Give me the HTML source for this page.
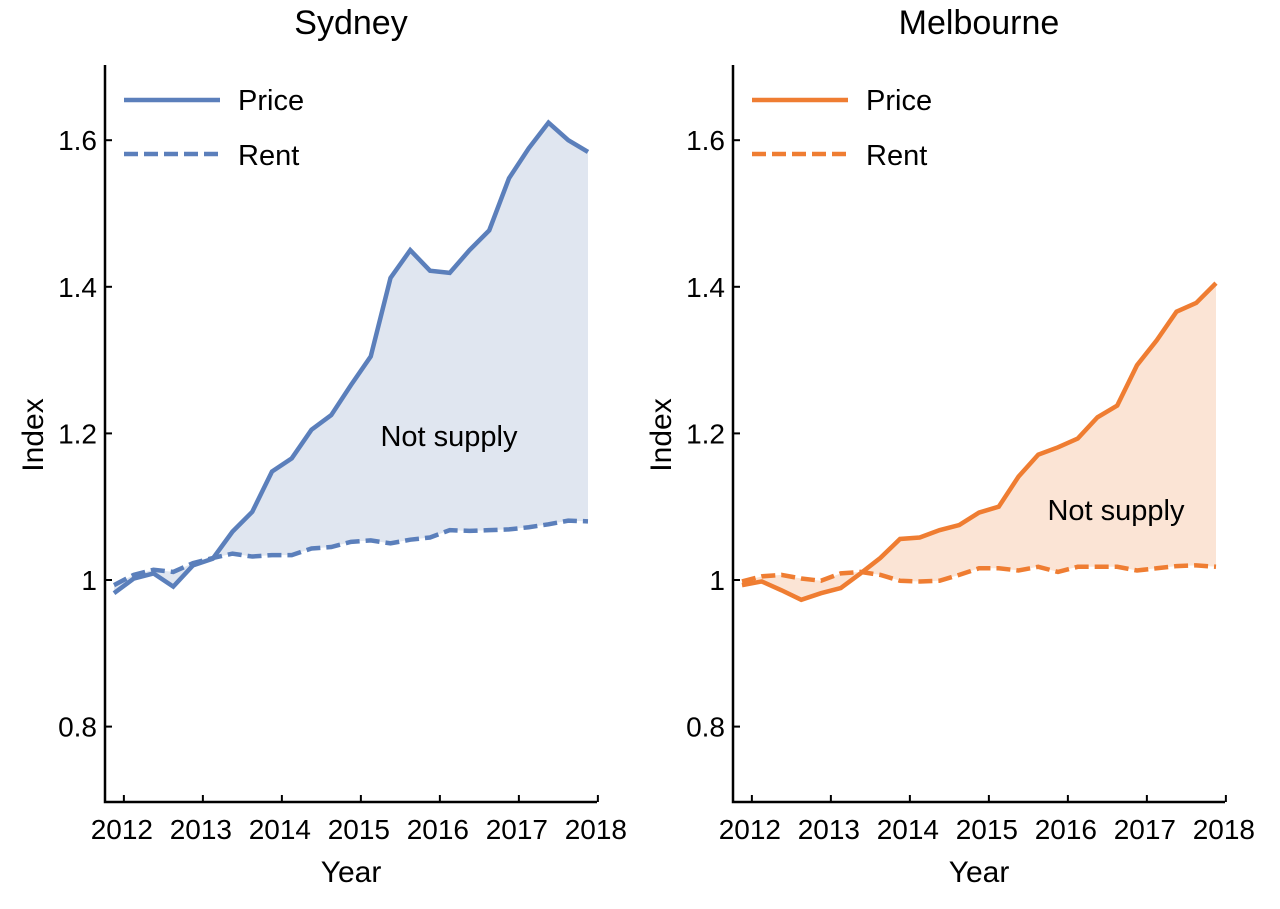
<!DOCTYPE html>
<html><head><meta charset="utf-8"><style>
body{margin:0;background:#fff;}
svg{display:block;font-family:"Liberation Sans",Arial,sans-serif;}
</style></head><body>
<svg id="chart" width="1280" height="909" viewBox="0 0 1280 909"></svg>
<script>
const quarterStart = 2011.875;
const yearTicks = [2012,2013,2014,2015,2016,2017,2018];
const yTickValues = [0.8,1.0,1.2,1.4,1.6];
const yTickLabels = ["0.8","1","1.2","1.4","1.6"];
const sydneyPrice = [0.982,1.002,1.009,0.991,1.020,1.029,1.066,1.093,1.148,1.166,1.205,1.225,1.266,1.305,1.412,1.450,1.422,1.419,1.450,1.477,1.548,1.589,1.624,1.600,1.584];
const sydneyRent = [0.993,1.007,1.014,1.011,1.023,1.030,1.036,1.032,1.034,1.034,1.043,1.045,1.052,1.054,1.050,1.055,1.058,1.068,1.067,1.068,1.069,1.072,1.076,1.081,1.080];
const melbPrice = [0.993,0.998,0.986,0.973,0.982,0.989,1.009,1.030,1.056,1.058,1.068,1.075,1.092,1.100,1.141,1.171,1.181,1.193,1.222,1.238,1.293,1.327,1.366,1.378,1.405];
const melbRent = [0.998,1.005,1.007,1.002,0.999,1.009,1.011,1.007,0.999,0.998,0.999,1.007,1.016,1.016,1.013,1.018,1.011,1.018,1.018,1.018,1.013,1.016,1.019,1.020,1.018];

const svg = document.getElementById('chart');
const NS = 'http://www.w3.org/2000/svg';
function mk(tag, attrs, parent){const e=document.createElementNS(NS,tag);for(const k in attrs)e.setAttribute(k,attrs[k]);(parent||svg).appendChild(e);return e;}
function yScale(v){return 580 - (v-1)*733;}

function panel(ax, title, price, rent, color, fill, labelX, labelY, key){
  const g = mk('g',{});
  
  
  const xS = t => ax + 9 + (t - quarterStart)*79;
  const xs = price.map((_,i)=>xS(quarterStart + i*0.25));
  let d = price.map((v,i)=>(i?'L':'M')+xs[i]+','+yScale(v)).join(' ');
  for(let i=rent.length-1;i>=0;i--) d += ' L'+xs[i]+','+yScale(rent[i]);
  const area = mk('path',{d:d+' Z',fill:fill,stroke:'none'},g);
  
  
  const rl = mk('polyline',{points:rent.map((v,i)=>xs[i]+','+yScale(v)).join(' '),fill:'none',stroke:color,'stroke-width':4.5,'stroke-dasharray':'14,6'},g);
  
  
  const pl = mk('polyline',{points:price.map((v,i)=>xs[i]+','+yScale(v)).join(' '),fill:'none',stroke:color,'stroke-width':4.5},g);
  
  
  const axes = mk('path',{d:`M${ax},65 L${ax},802 L${ax+492},802`,fill:'none',stroke:'#000','stroke-width':2.5},g);
  
  
  yearTicks.forEach(yr=>{
    const x = xS(yr);
    mk('line',{x1:x,y1:802,x2:x,y2:795,stroke:'#000','stroke-width':2},g);
    const t = mk('text',{x:x-2,y:839,'font-size':28,'text-anchor':'middle'},g);
    t.textContent = yr;
    
    
  });
  yTickValues.forEach((v,i)=>{
    const y = yScale(v);
    mk('line',{x1:ax,y1:y,x2:ax+7,y2:y,stroke:'#000','stroke-width':2},g);
    const t = mk('text',{x:ax-8,y:y+10,'font-size':28,'text-anchor':'end'},g);
    t.textContent = yTickLabels[i];
    
    
  });
  const tt = mk('text',{x:ax+246,y:34,'font-size':34,'text-anchor':'middle'},g);
  tt.textContent = title;
  
  
  const xt = mk('text',{x:ax+246,y:882,'font-size':30,'text-anchor':'middle'},g);
  xt.textContent = 'Year';
  
  
  const yt = mk('text',{x:0,y:0,'font-size':30,'text-anchor':'middle',transform:`translate(${ax-62},435) rotate(-90)`},g);
  yt.textContent = 'Index';
  
  
  const ns = mk('text',{x:labelX,y:labelY,'font-size':29,'text-anchor':'middle'},g);
  ns.textContent = 'Not supply';
  
  
  const lg = mk('g',{},g);
  
  
  mk('line',{x1:ax+19,y1:100,x2:ax+115,y2:100,stroke:color,'stroke-width':4.5},lg);
  const lp = mk('text',{x:ax+133,y:110,'font-size':29},lg);
  lp.textContent='Price';
  
  
  mk('line',{x1:ax+19,y1:154,x2:ax+115,y2:154,stroke:color,'stroke-width':4.5,'stroke-dasharray':'14,6'},lg);
  const lr = mk('text',{x:ax+133,y:165,'font-size':29},lg);
  lr.textContent='Rent';
  
  
}
panel(105,'Sydney',sydneyPrice,sydneyRent,'#5b7fbb','#e0e6f0',449,446,'sydney');
panel(733,'Melbourne',melbPrice,melbRent,'#ef7d32','#fbe4d5',1116,520,'melbourne');
</script>
</body></html>
